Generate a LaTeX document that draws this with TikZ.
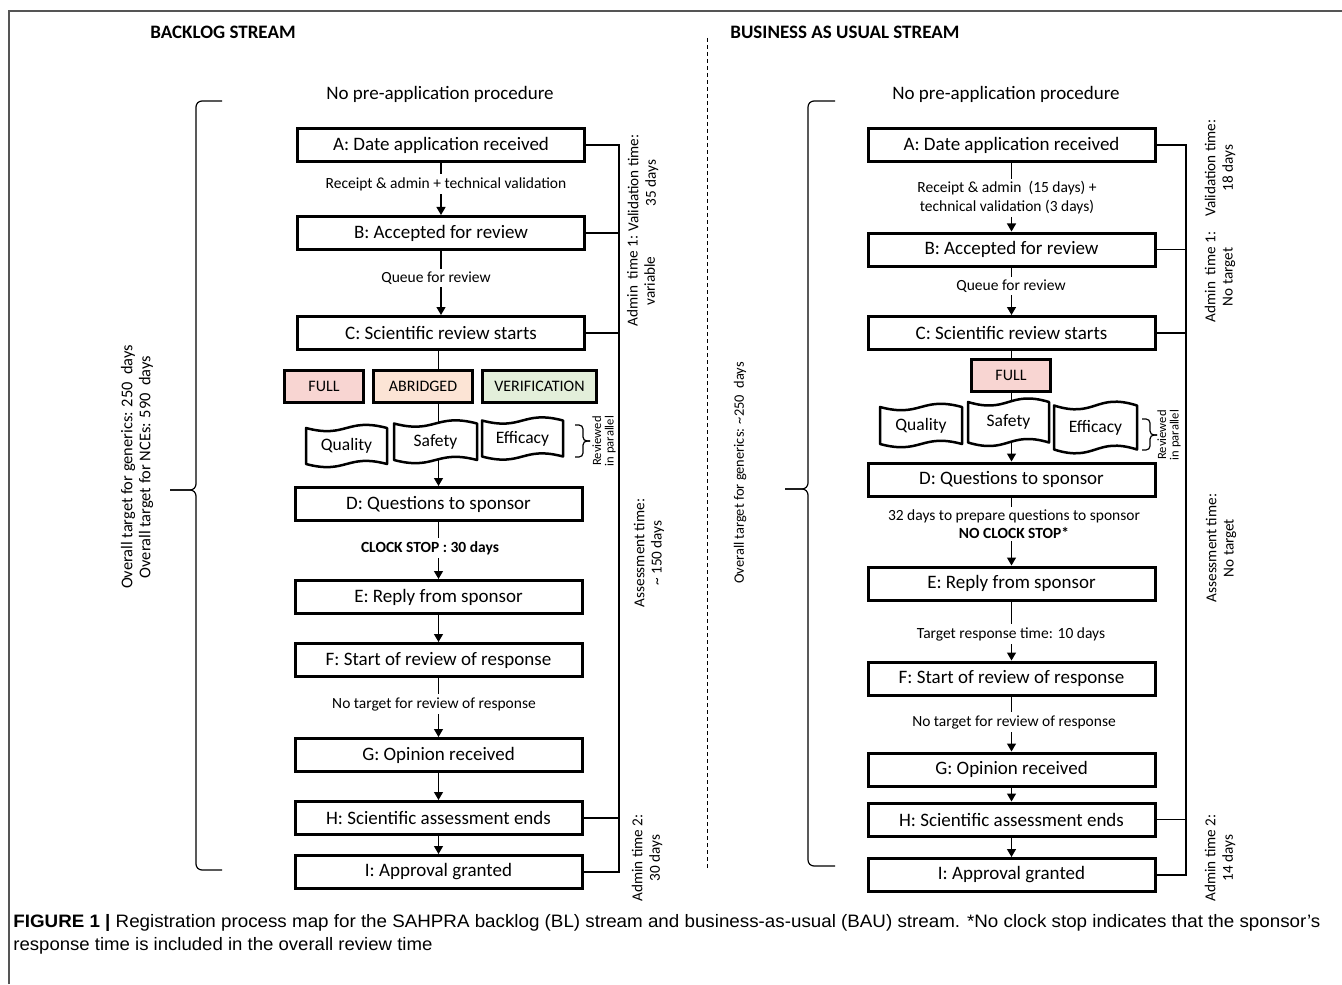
\documentclass[tikz,border=0pt]{standalone}
\usepackage{fontspec}
\usepackage{graphicx}
\setmainfont{Carlito}
\newfontfamily\capfont{Liberation Sans}
\usetikzlibrary{arrows.meta,backgrounds}
\definecolor{fullc}{HTML}{F8D5D2}
\definecolor{abrc}{HTML}{FCE4D5}
\definecolor{verc}{HTML}{E3EFDA}
\definecolor{framec}{HTML}{555555}
\newcommand{\tapeshape}[6]{%
  \pgfmathsetmacro{\tpM}{(#2+#4)/2}%
  \pgfmathsetmacro{\tpC}{(#3+#5)/2}%
  \pgfmathsetmacro{\tpD}{0.3*(#5-#3)}%
  \pgfmathsetmacro{\tpTa}{#3+\tpD}%
  \pgfmathsetmacro{\tpTb}{#3-\tpD}%
  \pgfmathsetmacro{\tpBa}{#5-\tpD}%
  \pgfmathsetmacro{\tpBb}{#5+\tpD}%
  \draw[tapeline] (#2,#3) .. controls (\tpM,\tpTa) and (\tpM,\tpTb) .. (#4,#3) -- (#4,#5) .. controls (\tpM,\tpBa) and (\tpM,\tpBb) .. (#2,#5) -- cycle;
  \node[tapetext] (#1) at (\tpM,\tpC) {#6};
}
\begin{document}
\begin{tikzpicture}[x=0.5pt,y=-0.5pt,
  box/.style={draw=black, line width=1.5pt, fill=white, minimum width=143.5pt, minimum height=16.5pt, inner sep=0pt, font=\fontsize{9.5}{11}\selectfont},
  typebox/.style={draw=black, line width=1.3pt, minimum height=15.75pt, inner sep=0pt, font=\fontsize{8}{9}\selectfont},
  tapeline/.style={draw=black, line width=1.25pt, fill=white, line join=round},
  tapetext/.style={inner sep=0pt, font=\fontsize{8.75}{10}\selectfont},
  lbl/.style={fill=white, inner sep=1.5pt, font=\fontsize{7.75}{9.5}\selectfont, align=center},
  conn/.style={line width=0.65pt, -{Triangle[length=4pt,width=4.5pt]}},
  brk/.style={line width=0.6pt},
  bigbrk/.style={line width=0.6pt, rounded corners=3pt},
  smallbrk/.style={line width=0.6pt, rounded corners=2pt},
  rotlbl/.style={rotate=90, align=center, inner sep=0pt, font=\fontsize{7.6}{8.7}\selectfont},
  tinylbl/.style={rotate=90, align=center, inner sep=0pt, font=\fontsize{6.3}{6.3}\selectfont},
  hdr/.style={anchor=west, inner sep=0pt, font=\bfseries\fontsize{9.5}{11}\selectfont},
  pre/.style={inner sep=0pt, font=\fontsize{9.5}{11}\selectfont}
]
\useasboundingbox (0,0) rectangle (1342,984);
% frame
\draw[framec, line width=0.75pt] (9,984) -- (9,11) -- (1342,11);
% divider
\draw[line width=0.5pt, dash pattern=on 2pt off 1.5pt] (707,38) -- (707,870);

% headers
\node[hdr] (hdrL) at (150,32) {BACKLOG STREAM};
\node[hdr] (hdrR) at (730,32) {BUSINESS AS USUAL STREAM};
\node[pre] (preL) at (440,94) {No pre-application procedure};
\node[pre] (preR) at (1006,94) {No pre-application procedure};

% ===== LEFT (backlog) =====
\node[box] (LA) at (441,145) {A: Date application received};
\node[box] (LB) at (441,233) {B: Accepted for review};
\node[box] (LC) at (441,333) {C: Scientific review starts};
\node[typebox, fill=fullc, minimum width=39.75pt] (LFULL) at (324,386.5) {FULL};
\node[typebox, fill=abrc, minimum width=49.75pt] (LABR) at (423,386.5) {ABRIDGED};
\node[typebox, fill=verc, minimum width=57.25pt] (LVER) at (539.5,386.5) {VERIFICATION};
\tapeshape{LQ}{306}{428}{387}{464}{Quality}
\tapeshape{LS}{394}{423.5}{477}{460}{Safety}
\tapeshape{LEf}{482}{420.5}{563}{456.5}{Efficacy}
\node[box] (LD) at (438.5,504) {D: Questions to sponsor};
\node[box] (LE) at (438.5,597) {E: Reply from sponsor};
\node[box] (LF) at (438.5,660) {F: Start of review of response};
\node[box] (LG) at (438.5,755) {G: Opinion received};
\node[box] (LH) at (438.5,818) {H: Scientific assessment ends};
\node[box] (LI) at (438.5,872) {I: Approval granted};

\node[lbl] (lAB) at (446,184) {Receipt \& admin + technical validation};
\node[lbl] (lBC) at (436,278) {Queue for review};
\node[lbl, font=\bfseries\fontsize{7.75}{9.5}\selectfont] (lDE) at (430,548) {CLOCK STOP : 30 days};
\node[lbl] (lFG) at (434,704) {No target for review of response};

\begin{scope}[on background layer]
\draw[conn] (LA) -- (LB);
\draw[conn] (LB) -- (LC);
\draw[conn] (LD.north |- LC.south) -- (LD.north);
\draw[conn] (LD) -- (LE);
\draw[conn] (LE) -- (LF);
\draw[conn] (LF) -- (LG);
\draw[conn] (LG) -- (LH);
\draw[conn] (LH) -- (LI);
\end{scope}

% right-hand bracket lines (left stream)
\coordinate (lbx) at (619,0);
\draw[brk] (LA.east) -- (LA.east -| lbx) -- (LH.east -| lbx) -- (LH.east);
\draw[brk] (LB.east) -- (LB.east -| lbx);
\draw[brk] (LC.east) -- (LC.east -| lbx);
\draw[brk] (LI.east) -- (LI.east -| lbx) -- (LH.east -| lbx);

\node[rotlbl] (lval) at (643,183) {Validation time:\\35 days};
\node[rotlbl] (ladm1) at (641,281) {Admin\ \ time 1:\\variable};
\node[rotlbl] (lass) at (649,553) {Assessment time:\\\textasciitilde{} 150 days};
\node[rotlbl] (ladm2) at (647,858) {Admin time 2:\\30 days};

% small brace left
\draw[smallbrk] (590,441) -- (583,441) -- (583,425) -- (575,425);
\draw[smallbrk] (590,441) -- (583,441) -- (583,457) -- (575,457);
\node[tinylbl] (lpar) at (604,441) {Reviewed\\in parallel};

% big brace left
\draw[bigbrk] (170,490) -- (196,490) -- (196,101) -- (222,101);
\draw[bigbrk] (170,490) -- (196,490) -- (196,870) -- (222,870);
\node[rotlbl, font=\fontsize{8.2}{9}\selectfont] (lall) at (137,467) {Overall target for generics: 250\ \ days\\Overall target for NCEs: 590\ \ days};

% ===== RIGHT (BAU) =====
\node[box] (RA) at (1011.5,145) {A: Date application received};
\node[box] (RB) at (1011.5,249.5) {B: Accepted for review};
\node[box] (RC) at (1011.5,333) {C: Scientific review starts};
\node[typebox, fill=fullc, minimum width=39.75pt, minimum height=16.25pt] (RFULL) at (1011,375.5) {FULL};
\tapeshape{RQ}{880}{407}{962}{444}{Quality}
\tapeshape{RS}{968}{402}{1049}{442.5}{Safety}
\tapeshape{REf}{1054}{405.5}{1137}{449.5}{Efficacy}
\node[box] (RD) at (1011.5,479.5) {D: Questions to sponsor};
\node[box] (RE) at (1011.5,583.5) {E: Reply from sponsor};
\node[box] (RF) at (1011.5,678.5) {F: Start of review of response};
\node[box] (RG) at (1011.5,769.5) {G: Opinion received};
\node[box] (RH) at (1011.5,819.5) {H: Scientific assessment ends};
\node[box] (RI) at (1011.5,875) {I: Approval granted};

\node[lbl] (rAB) at (1007,198) {Receipt \& admin\ \ (15 days) +\\technical validation (3 days)};
\node[lbl] (rBC) at (1011,286) {Queue for review};
\node[lbl, font=\fontsize{7.75}{9}\selectfont] (rDE) at (1014,524) {32 days to prepare questions to sponsor\\\textbf{NO CLOCK STOP*}};
\node[lbl] (rEF) at (1011,634) {Target response time: 10 days};
\node[lbl] (rFG) at (1014,722) {No target for review of response};

\begin{scope}[on background layer]
\draw[conn] (RA) -- (RB);
\draw[conn] (RB) -- (RC);
\draw[conn] (RC) -- (RD);
\draw[conn] (RD) -- (RE);
\draw[conn] (RE) -- (RF);
\draw[conn] (RF) -- (RG);
\draw[conn] (RG) -- (RH);
\draw[conn] (RH) -- (RI);
\end{scope}

\coordinate (rbx) at (1186,0);
\draw[brk] (RA.east) -- (RA.east -| rbx) -- (RH.east -| rbx) -- (RH.east);
\draw[brk] (RB.east) -- (RB.east -| rbx);
\draw[brk] (RC.east) -- (RC.east -| rbx);
\draw[brk] (RI.east) -- (RI.east -| rbx) -- (RH.east -| rbx);

\node[rotlbl] (rval) at (1220,168) {Validation time:\\18 days};
\node[rotlbl] (radm1) at (1220,277) {Admin\ \ time 1:\\No target};
\node[rotlbl] (rass) at (1221,548) {Assessment time:\\No target};
\node[rotlbl] (radm2) at (1220,858) {Admin time 2:\\14 days};

\draw[smallbrk] (1157,435) -- (1150,435) -- (1150,419) -- (1142,419);
\draw[smallbrk] (1157,435) -- (1150,435) -- (1150,450) -- (1142,450);
\node[tinylbl] (rpar) at (1169,435) {Reviewed\\in parallel};

\draw[bigbrk] (785,489) -- (808,489) -- (808,101) -- (835,101);
\draw[bigbrk] (785,489) -- (808,489) -- (808,866) -- (835,866);
\node[rotlbl, font=\fontsize{7.2}{9}\selectfont] (rall) at (740,473) {Overall target for generics: \textasciitilde250\ \ days};

% caption
\node[anchor=west, inner sep=0pt] (cap1) at (13,923) {\resizebox{653.5pt}{\height}{\capfont\fontsize{9}{11}\selectfont\textbf{FIGURE 1 |} Registration process map for the SAHPRA backlog (BL) stream and business-as-usual (BAU) stream. *No clock stop indicates that the sponsor’s}};
\node[anchor=west, inner sep=0pt] (cap2) at (13,946) {\resizebox{209.5pt}{\height}{\capfont\fontsize{9}{11}\selectfont response time is included in the overall review time}};
\end{tikzpicture}
\end{document}
